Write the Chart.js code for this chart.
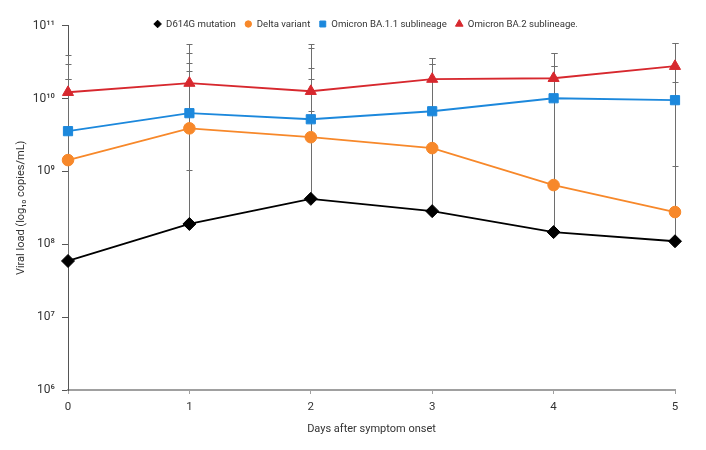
<!DOCTYPE html>
<html>
<head>
<meta charset="utf-8">
<script src="https://cdn.jsdelivr.net/npm/chart.js@4.4.1/dist/chart.umd.min.js"></script>
<style>
  html, body { margin: 0; padding: 0; background: #fff; }
  canvas { display: block; }
</style>
</head>
<body>
<canvas id="chart" width="706" height="450"></canvas>
<script>
// days after symptom onset
const days = ['0', '1', '2', '3', '4', '5'];

// mean viral load (copies/mL)
const d614g = [5.9e7, 1.9e8, 4.2e8, 2.85e8, 1.47e8, 1.1e8];
const delta = [1.43e9, 3.9e9, 2.95e9, 2.09e9, 6.5e8, 2.77e8];
const ba11 = [3.57e9, 6.3e9, 5.2e9, 6.7e9, 1.01e10, 9.5e9];
const ba2 = [1.22e10, 1.63e10, 1.26e10, 1.85e10, 1.9e10, 2.78e10];

// error bar ends (upper / lower), null = none
const d614gHigh = [1.83e10, 2.4e10, 1.83e10, 3.6e10, 4.2e10, 5.7e10];
const deltaHigh = [1.83e10, 3.1e10, 2.64e10, 3.0e10, 2.8e10, 1.17e9];
const ba11High = [3.0e10, 4.2e10, 5.0e10, 3.0e10, 2.8e10, 1.69e10];
const ba11Low = [null, 1.03e9, null, null, null, null];
const ba2High = [4.0e10, 5.6e10, 5.6e10, 3.6e10, 4.2e10, 5.7e10];
const ba2Low = [null, null, 6.8e9, null, null, null];

// y axis ticks
const yTicks = [1e6, 1e7, 1e8, 1e9, 1e10, 1e11];
const yTickLabels = ['10⁶', '10⁷', '10⁸', '10⁹', '10¹⁰', '10¹¹'];

const FONT = 'Roboto, "Noto Sans", sans-serif';
const TEXT = '#333333';

// draws the vertical error bars behind the lines/markers
const errorBars = {
  id: 'errorBars',
  beforeDatasetsDraw(chart) {
    const { ctx, scales: { x, y } } = chart;
    ctx.save();
    ctx.strokeStyle = '#6e6e6e';
    ctx.lineWidth = 1;
    chart.data.datasets.forEach((ds) => {
      ds.data.forEach((v, i) => {
        const px = Math.round(x.getPixelForValue(i)) + 0.5;
        const py = y.getPixelForValue(v);
        [ds.errHigh && ds.errHigh[i], ds.errLow && ds.errLow[i]].forEach((e) => {
          if (e == null) return;
          const pe = Math.round(y.getPixelForValue(e)) + 0.5;
          ctx.beginPath();
          ctx.moveTo(px, py);
          ctx.lineTo(px, pe);
          ctx.moveTo(px - 3, pe);
          ctx.lineTo(px + 3, pe);
          ctx.stroke();
        });
      });
    });
    ctx.restore();
  },
};

// legend sits on the top edge of the plot, so it is drawn by hand
const topLegend = {
  id: 'topLegend',
  afterDraw(chart) {
    const { ctx } = chart;
    const sizes = { rectRot: 3.8, circle: 3.2, rect: 4.2, triangle: 4.4 };
    const gap = 5, spacing = 9, cy = 24, cx = 366;
    ctx.save();
    ctx.font = '9.6px ' + FONT;
    ctx.textBaseline = 'middle';
    const items = chart.data.datasets.map((ds) => ({
      ds, w: 7 + gap + ctx.measureText(ds.label).width,
    }));
    const total = items.reduce((a, it) => a + it.w, 0) + spacing * (items.length - 1);
    let x = cx - total / 2;
    items.forEach(({ ds, w }) => {
      ctx.fillStyle = ds.backgroundColor;
      ctx.strokeStyle = ds.borderColor;
      ctx.lineWidth = 1;
      Chart.helpers.drawPoint(ctx, { pointStyle: ds.pointStyle, radius: sizes[ds.pointStyle], rotation: 0, borderWidth: 1 }, x + 3.5, cy);
      ctx.fillStyle = TEXT;
      ctx.fillText(ds.label, x + 7 + gap, cy + 0.5);
      x += w + spacing;
    });
    ctx.restore();
  },
};

const series = (label, data, color, style, radius, errHigh, errLow) => ({
  label,
  data,
  errHigh,
  errLow,
  borderColor: color,
  backgroundColor: color,
  borderWidth: 1.8,
  pointStyle: style,
  pointRadius: radius,
  pointBorderWidth: 1,
  pointBackgroundColor: color,
  pointBorderColor: color,
  tension: 0,
});

new Chart(document.getElementById('chart'), {
  type: 'line',
  data: {
    labels: days,
    datasets: [
      series('D614G mutation', d614g, '#000000', 'rectRot', 6.5, d614gHigh, null),
      series('Delta variant', delta, '#f7882a', 'circle', 5.8, deltaHigh, null),
      series('Omicron BA.1.1 sublineage', ba11, '#1c88dc', 'rect', 6.5, ba11High, ba11Low),
      series('Omicron BA.2 sublineage.', ba2, '#d7282e', 'triangle', 6.4, ba2High, ba2Low),
    ],
  },
  options: {
    responsive: false,
    animation: false,
    layout: { padding: { top: 25.7, right: 31, bottom: 0, left: 0 } },
    plugins: {
      tooltip: { enabled: false },
      legend: { display: false },
    },
    scales: {
      x: {
        type: 'category',
        offset: false,
        afterFit: (s) => { s.height = 60; },
        border: { color: '#a0a0a0', width: 2 },
        grid: { drawOnChartArea: false, drawTicks: true, tickLength: 4, color: '#a0a0a0' },
        ticks: { color: TEXT, padding: 6, font: { family: FONT, size: 11.5 } },
        title: {
          display: true,
          text: 'Days after symptom onset',
          color: TEXT,
          font: { family: FONT, size: 11 },
          padding: { top: 0, bottom: 14 },
        },
      },
      y: {
        type: 'logarithmic',
        min: 1e6,
        max: 1e11,
        afterFit: (s) => { s.width = 68; },
        afterBuildTicks: (s) => { s.ticks = yTicks.map((v) => ({ value: v })); },
        border: { color: '#555555', width: 1 },
        grid: { drawOnChartArea: false, drawTicks: true, tickLength: 6, color: '#555555' },
        ticks: {
          color: TEXT,
          padding: 7,
          font: { family: FONT, size: 12 },
          callback: (v) => yTickLabels[yTicks.indexOf(v)] || '',
        },
        title: {
          display: true,
          text: 'Viral load (log₁₀ copies/mL)',
          color: TEXT,
          font: { family: FONT, size: 11 },
          padding: { top: 15, bottom: 0 },
        },
      },
    },
  },
  plugins: [errorBars, topLegend],
});
</script>
</body>
</html>
